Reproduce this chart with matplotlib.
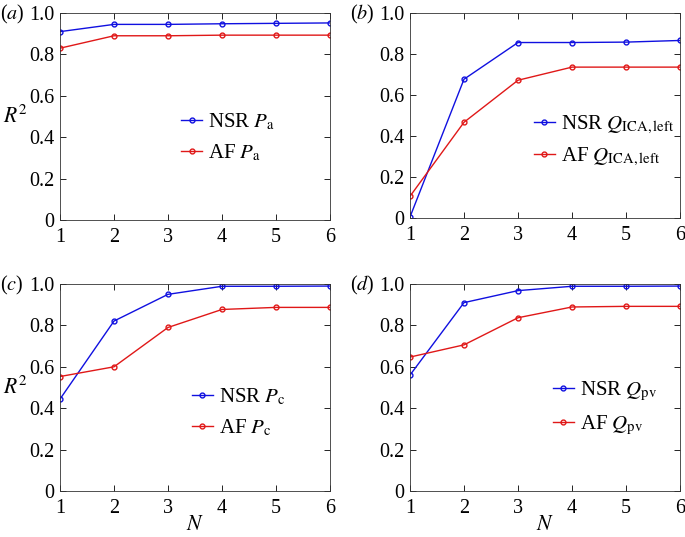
import matplotlib
matplotlib.use('Agg')
import matplotlib.pyplot as plt

plt.rcParams['font.family'] = ['Liberation Serif', 'DejaVu Serif']
plt.rcParams['mathtext.fontset'] = 'stix'
plt.rcParams['font.size'] = 14.5

N = [1, 2, 3, 4, 5, 6]

# (a) P_a
nsr_pa = [0.91, 0.945, 0.945, 0.948, 0.950, 0.952]
af_pa = [0.83, 0.890, 0.890, 0.893, 0.893, 0.893]
# (b) Q_ICA,left
nsr_qica = [0.005, 0.677, 0.856, 0.856, 0.858, 0.866]
af_qica = [0.106, 0.467, 0.672, 0.736, 0.736, 0.736]
# (c) P_c
nsr_pc = [0.444, 0.821, 0.950, 0.989, 0.989, 0.990]
af_pc = [0.553, 0.600, 0.790, 0.877, 0.887, 0.887]
# (d) Q_pv
nsr_qpv = [0.560, 0.910, 0.968, 0.989, 0.989, 0.990]
af_qpv = [0.647, 0.706, 0.837, 0.889, 0.892, 0.892]

panels = [
    ('a', nsr_pa, af_pa, r'$P_{\mathrm{a}}$', [60, 13, 330, 220], (0.41, 0.40), True, False),
    ('b', nsr_qica, af_qica, r'$Q_{\mathrm{ICA,left}}$', [410, 13, 680, 218], (0.42, 0.375), False, False),
    ('c', nsr_pc, af_pc, r'$P_{\mathrm{c}}$', [60, 284, 330, 491], (0.45, 0.38), True, True),
    ('d', nsr_qpv, af_qpv, r'$Q_{\mathrm{pv}}$', [410, 284, 680, 491], (0.49, 0.40), False, True),
]

W, H = 685, 537
fig = plt.figure(figsize=(W / 100, H / 100), dpi=100)

for letter, nsr, af, name, box, legpos, ylab, xlab in panels:
    l, t, r, b = box
    ax = fig.add_axes([l / W, 1 - b / H, (r - l) / W, (b - t) / H])
    ax.plot(N, nsr, color='#1010e0', lw=1.0, marker='o', ms=3.5, mfc='none', mew=1.0,
            label='NSR ' + name)
    ax.plot(N, af, color='#e01818', lw=1.0, marker='o', ms=3.5, mfc='none', mew=1.0,
            label='AF ' + name)
    ax.set_xlim(1, 6)
    ax.set_ylim(0, 1)
    ax.set_xticks(N)
    ax.set_yticks([0, 0.2, 0.4, 0.6, 0.8, 1.0])
    ax.set_yticklabels(['0', '0.2', '0.4', '0.6', '0.8', '1.0'])
    ax.tick_params(direction='in', top=True, right=True, length=4, width=0.6, pad=4)
    ax.tick_params(axis='x', pad=6)
    for s in ax.spines.values():
        s.set_linewidth(0.6)
        s.set_color('#333333')
    ax.legend(loc='center left', bbox_to_anchor=legpos, frameon=False,
              handlelength=1.0, handletextpad=0.3, labelspacing=0.5,
              borderpad=0, fontsize=15)
    if ylab:
        ax.set_ylabel(r'$R^2$', rotation=0, fontsize=15.5, labelpad=10, va='center')
    if xlab:
        ax.set_xlabel(r'$N$', fontsize=15.5, labelpad=-2)
    fig.text((l - 60) / W, 1 - (t + 1) / H, '(' + r'$\mathit{' + letter + '}$' + ')',
             fontsize=14.5, ha='left', va='center')

fig.savefig('out.png', dpi=100)
